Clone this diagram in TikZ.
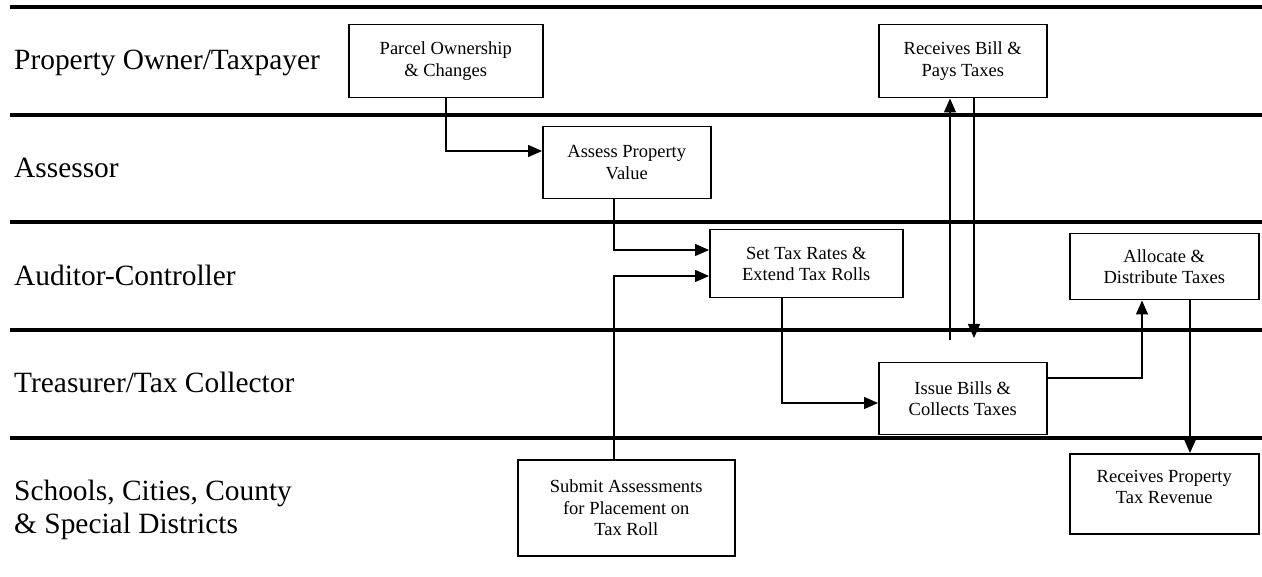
\documentclass[tikz,border=0pt]{standalone}
\usepackage{fontspec}
\setmainfont{Liberation Serif}
\usetikzlibrary{arrows.meta,calc}
\tikzset{
  lanerule/.style={line width=4pt},
  lanelab/.style={anchor=base west,inner sep=0pt,font=\fontsize{29.4}{33}\selectfont},
  procbox/.style={draw,line width=1.5pt,anchor=north west,inner sep=2pt,align=center,
                  font=\fontsize{18.5}{21.5}\selectfont},
  arr/.style={line width=1.4pt,-{Triangle[length=14pt,width=12pt]}},
}
\begin{document}
\begin{tikzpicture}[x=1pt,y=-1pt]
\useasboundingbox (0,0) rectangle (1262,577);
% lane rules
\foreach \yy in {7,115,222,330,438}{
  \draw[lanerule] (10,\yy) -- (1262,\yy);
}
% lane labels
\node[lanelab] (l1) at (14,70) {Property Owner/Taxpayer};
\node[lanelab] (l2) at (14,178) {Assessor};
\node[lanelab] (l3) at (14,286) {Auditor-Controller};
\node[lanelab] (l4) at (14,393) {Treasurer/Tax Collector};
\node[lanelab] (l5a) at (14,500) {Schools, Cities, County};
\node[lanelab] (l5b) at (14,533) {\& Special Districts};
% boxes
\node[procbox,minimum width=194pt,minimum height=73pt] (parcel) at (348,24) {Parcel Ownership\\\& Changes};
\node[procbox,minimum width=168pt,minimum height=72pt] (assess) at (542,126) {Assess Property\\Value};
\node[procbox,minimum width=193pt,minimum height=68pt] (settax) at (709,229) {Set Tax Rates \&\\Extend Tax Rolls};
\node[procbox,minimum width=168pt,minimum height=73pt] (recv) at (878,24) {Receives Bill \&\\Pays Taxes};
\node[procbox,minimum width=189pt,minimum height=66pt] (alloc) at (1069,233) {Allocate \&\\Distribute Taxes};
\node[procbox,minimum width=168pt,minimum height=72pt] (issue) at (878,362) {Issue Bills \&\\Collects Taxes};
\node[procbox,minimum width=217pt,minimum height=96pt] (submit) at (517,459) {Submit Assessments\\for Placement on\\Tax Roll};
\node[procbox,minimum width=189pt,minimum height=80pt] (revenue) at (1069,453) {Receives Property\\Tax Revenue\\[-7.5pt]};
% helper coordinates
\coordinate (c1) at (446,151);
\coordinate (c2) at (614,250);
\coordinate (c3) at (614,276);
\coordinate (c4) at (782,403);
\coordinate (s5) at (950,340);
\coordinate (e6) at (974,338);
\coordinate (c7) at (1142,378);
\coordinate (c8) at (1190,0);
% connectors
\draw[arr] (parcel.south -| c1) |- (assess.west |- c1);
\draw[arr] (assess.south -| c2) |- (settax.west |- c2);
\draw[arr] (submit.north -| c3) |- (settax.west |- c3);
\draw[arr] (settax.south -| c4) |- (issue.west |- c4);
\draw[arr] (s5) -- (recv.south -| s5);
\draw[arr] (recv.south -| e6) -- (e6);
\draw[arr] (issue.east |- c7) -| (alloc.south -| c7);
\draw[arr] (alloc.south -| c8) -- (revenue.north -| c8);
\end{tikzpicture}
\end{document}
